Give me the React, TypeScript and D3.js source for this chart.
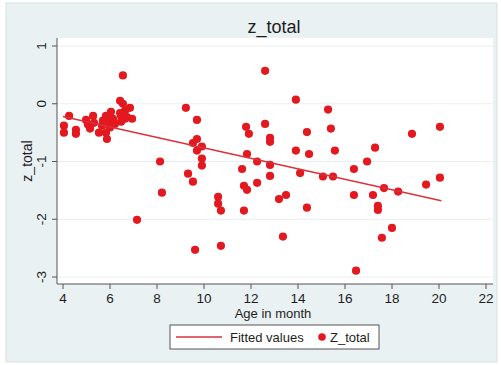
import React from "react";
import * as d3 from "d3";

// age in months and z_total
const ages = [
  4.04, 4.04, 4.26, 4.55, 4.55, 4.98, 5.15, 5.28, 5.32, 5.53,
  5.66, 5.83, 5.87, 5.87, 6.0, 6.09, 6.04, 6.13, 6.21, 6.43,
  6.55, 6.55, 6.47, 6.47, 6.64, 6.72, 6.85, 6.94, 5.83, 5.7,
  5.06, 5.79, 6.64, 6.43,
  7.15, 8.13, 8.21, 9.23, 9.7, 9.53, 9.7, 9.91, 9.7, 9.91,
  9.91, 9.32, 9.53, 10.6, 10.6, 10.72, 9.62, 10.72, 11.79, 11.91,
  11.83, 12.26, 11.62, 11.7, 11.83, 12.26, 11.7, 12.6, 13.91, 15.28,
  12.6, 12.81, 12.81, 14.38, 15.4, 13.91, 14.47, 15.57, 12.81, 16.94,
  16.38, 12.81, 14.09, 15.06, 15.49, 13.19, 13.49, 14.38, 16.38, 13.36,
  16.47, 18.85, 20.04, 17.28, 17.66, 18.26, 17.19, 17.4, 17.4, 19.45,
  20.04, 18.0, 17.57,
];
const zTotals = [
  -0.38, -0.5, -0.21, -0.45, -0.52, -0.28, -0.43, -0.21, -0.33, -0.5,
  -0.38, -0.5, -0.61, -0.28, -0.41, -0.33, -0.14, -0.26, -0.35, 0.05,
  0.49, 0.0, -0.21, -0.31, -0.12, -0.23, -0.07, -0.26, -0.21, -0.29,
  -0.36, -0.33, -0.26, -0.16,
  -2.01, -1.0, -1.54, -0.07, -0.28, -0.68, -0.61, -0.74, -0.81, -0.95,
  -1.07, -1.21, -1.35, -1.61, -1.73, -1.85, -2.53, -2.46, -0.4, -0.52,
  -0.87, -1.0, -1.13, -1.42, -1.49, -1.37, -1.85, 0.57, 0.07, -0.1,
  -0.35, -0.59, -0.66, -0.49, -0.43, -0.81, -0.87, -0.81, -1.06, -1.0,
  -1.13, -1.25, -1.2, -1.26, -1.26, -1.65, -1.58, -1.8, -1.58, -2.3,
  -2.89, -0.52, -0.4, -0.76, -1.46, -1.52, -1.58, -1.77, -1.84, -1.4,
  -1.28, -2.15, -2.32,
];

// fitted values (linear fit) at the ends of the age range
const fitAges = [4.0, 20.1];
const fitValues = [-0.22, -1.68];

const xTicks = [4, 6, 8, 10, 12, 14, 16, 18, 20, 22];
const yTicks = [-3, -2, -1, 0, 1];

const W = 501;
const H = 365;
const plot = { left: 57, right: 493, top: 38, bottom: 284 };
const red = "#e3191f";
const font = "'Liberation Sans', Arial, sans-serif";

export default function App() {
  const x = d3.scaleLinear().domain([4, 22]).range([63, 486]);
  const y = d3.scaleLinear().domain([-3, 1]).range([277, 46]);

  const line = d3
    .line<number>()
    .x((d, i) => x(fitAges[i]))
    .y((d) => y(d));

  return (
    <svg
      width={W}
      height={H}
      style={{ position: "absolute", left: 0, top: 0, background: "#fff" }}
      fontFamily={font}
    >
      <rect x={6} y={3} width={491} height={359} fill="#e9f1f3" stroke="#d9dfe2" />
      <rect
        x={plot.left}
        y={plot.top}
        width={plot.right - plot.left}
        height={plot.bottom - plot.top}
        fill="#fff"
      />

      {/* grid */}
      {yTicks.map((t) => (
        <line
          key={"g" + t}
          x1={plot.left}
          x2={plot.right}
          y1={y(t)}
          y2={y(t)}
          stroke="#e8eff2"
          strokeWidth={1}
        />
      ))}

      {/* title */}
      <text x={274} y={33} textAnchor="middle" fontSize={18} fill="#1e1e1e">
        z_total
      </text>

      {/* y axis */}
      <line x1={plot.left} x2={plot.left} y1={plot.top} y2={plot.bottom} stroke="#555" />
      {yTicks.map((t) => (
        <g key={"y" + t}>
          <line x1={plot.left - 5} x2={plot.left} y1={y(t)} y2={y(t)} stroke="#555" />
          <text
            transform={`translate(46,${y(t)}) rotate(-90)`}
            textAnchor="middle"
            fontSize={13.5}
            fill="#1e1e1e"
          >
            {t}
          </text>
        </g>
      ))}
      <text
        transform={`translate(32,${(plot.top + plot.bottom) / 2}) rotate(-90)`}
        textAnchor="middle"
        fontSize={14}
        fill="#1e1e1e"
      >
        z_total
      </text>

      {/* x axis */}
      <line x1={plot.left} x2={plot.right} y1={plot.bottom} y2={plot.bottom} stroke="#555" />
      {xTicks.map((t) => (
        <g key={"x" + t}>
          <line x1={x(t)} x2={x(t)} y1={plot.bottom} y2={plot.bottom + 5} stroke="#555" />
          <text x={x(t)} y={303} textAnchor="middle" fontSize={13.5} fill="#1e1e1e">
            {t}
          </text>
        </g>
      ))}
      <text x={273} y={318} textAnchor="middle" fontSize={13} fill="#1e1e1e">
        Age in month
      </text>

      {/* points */}
      {ages.map((a, i) => (
        <circle key={i} cx={x(a)} cy={y(zTotals[i])} r={4.1} fill={red} />
      ))}

      {/* fitted line */}
      <path d={line(fitValues) || ""} fill="none" stroke="#d8323a" strokeWidth={1.4} />

      {/* legend */}
      <rect x={170} y={325} width={209} height={24} fill="#fff" stroke="#555" />
      <line x1={176} x2={222} y1={337} y2={337} stroke="#d8323a" strokeWidth={1.4} />
      <text x={230} y={342} fontSize={13} fill="#1e1e1e">
        Fitted values
      </text>
      <circle cx={322} cy={337} r={3.8} fill={red} />
      <text x={330} y={342} fontSize={13} fill="#1e1e1e">
        Z_total
      </text>
    </svg>
  );
}
